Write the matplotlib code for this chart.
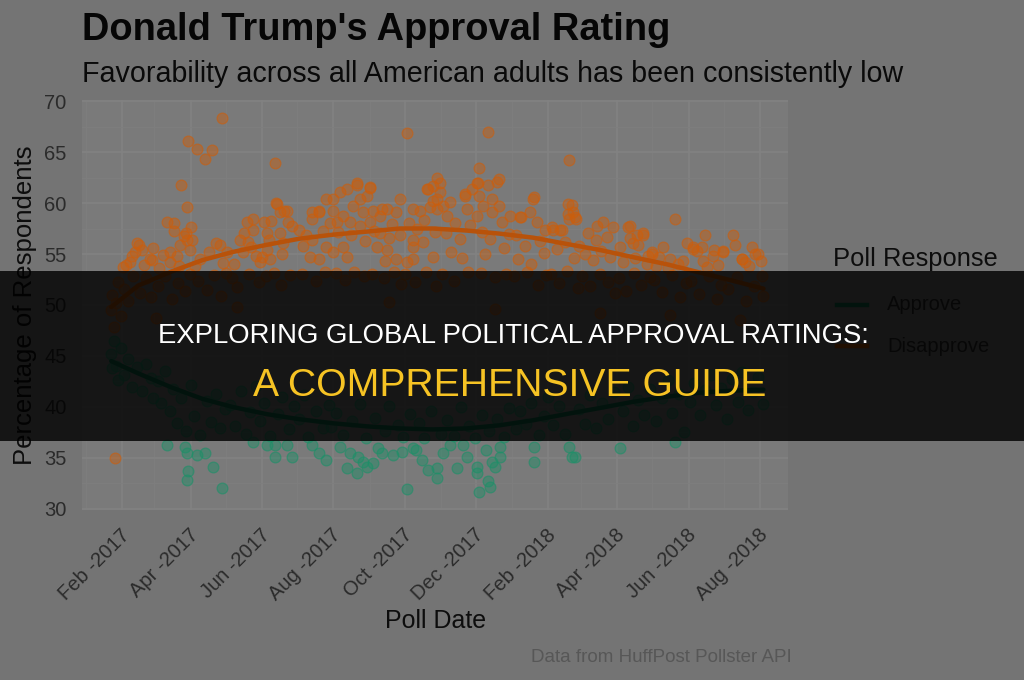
import numpy as np
import matplotlib
matplotlib.use("Agg")
import matplotlib.pyplot as plt
import matplotlib.dates as mdates
from matplotlib.lines import Line2D
from matplotlib.patches import Rectangle
from matplotlib.transforms import ScaledTranslation
from matplotlib.colors import to_rgba

plt.rcParams['font.family'] = ['Liberation Sans', 'DejaVu Sans']

# ---------------- data (days since 2017-01-01, percentage) ----------------
disapprove_day = [
    25, 32, 35, 38, 40, 42, 44, 46, 48, 50, 55, 57, 58,
    22, 23, 24, 26, 28, 30, 33, 36, 41, 47, 52, 56,
    63, 66, 70, 72, 72, 76, 76, 78, 80, 81, 82, 84, 86, 87, 87, 88, 89, 90, 91,
    62, 68, 74, 79, 85, 89,
    94, 95, 98, 102, 106, 108, 112, 115, 117, 118, 121,
    96, 104, 110, 116, 120,
    132, 135, 136, 138, 139, 142, 143, 143, 149, 127, 146,
    125, 130, 140, 148,
    151, 153, 155, 155, 158, 159, 162, 163, 164, 166, 166, 169, 170, 172, 173, 177, 157, 168,
    154, 161, 167, 175,
    183, 192, 194, 194, 194, 200, 200, 200, 206, 206, 186, 189, 203, 209,
    185, 197, 205,
    212, 212, 212, 215, 218, 220, 220, 224, 224, 226, 229, 232, 232, 235, 235, 237, 241, 239, 227, 216,
    214, 222, 230, 238,
    243, 243, 243, 246, 249, 252, 252, 254, 258, 258, 260, 266, 266, 269, 269, 247, 262, 256,
    245, 255, 264, 270,
    275, 275, 280, 280, 280, 280, 286, 289, 292, 293, 295, 297, 297, 297, 301, 301, 301, 277, 284, 290, 299,
    273, 282, 291, 300,
    303, 303, 306, 309, 312, 325, 326, 325, 331, 308, 316, 320, 329, 313, 322,
    305, 315, 327,
    335, 335, 336, 337, 337, 340, 344, 344, 348, 348, 352, 354, 354, 356, 363, 339, 346, 358, 362, 342,
    338, 350, 360,
    372, 373, 380, 383, 384, 386, 393, 368, 376, 389, 370, 381, 392,
    367, 378, 387, 394,
    399, 400, 406, 408, 413, 413, 414, 414, 416, 417, 419, 420, 403, 410, 418, 422,
    398, 405, 412, 421,
    430, 437, 438, 443, 446, 451, 427, 434, 441, 449,
    425, 432, 440, 447, 453,
    457, 464, 466, 466, 468, 472, 473, 477, 477, 460, 470, 480,
    456, 462, 469, 475, 483,
    481, 485, 485, 491, 494, 500, 504, 511, 515, 488, 498, 507,
    486, 493, 502, 509, 514,
    520, 520, 523, 527, 528, 530, 537, 538, 545, 545, 532, 541,
    518, 525, 533, 540, 544,
    554, 556, 562, 562, 564, 570, 573, 575, 568, 578,
    550, 557, 565, 572, 579, 580,
    60, 130, 260, 350, 440, 500, 560,
]
disapprove_pct = [
    35.0, 53.7, 53.9, 54.2, 54.8, 55.2, 56.1, 55.9, 55.4, 53.9, 54.5, 54.4, 55.6,
    49.5, 51.0, 47.8, 50.2, 52.3, 48.9, 51.6, 50.4, 52.8, 51.2, 52.6, 50.8,
    53.6, 54.9, 58.1, 55.2, 54.2, 58.0, 57.3, 54.8, 53.8, 55.9, 61.8, 56.8, 57.1, 59.6, 56.4, 66.1, 55.4, 57.6, 56.4,
    51.9, 52.8, 50.6, 52.2, 51.4, 53.0,
    53.8, 65.3, 54.5, 64.3, 55.2, 65.2, 56.1, 55.9, 68.3, 54.1, 55.2,
    52.4, 51.5, 52.9, 50.9, 53.1,
    56.4, 55.2, 57.1, 58.1, 56.2, 55.7, 57.4, 58.4, 54.2, 54.0, 54.8,
    52.6, 51.8, 53.0, 52.3,
    54.7, 58.1, 55.4, 57.1, 54.5, 58.2, 63.9, 60.0, 59.9, 59.1, 57.1, 56.1, 59.2, 59.2, 58.1, 57.7, 56.4, 55.0,
    52.8, 53.1, 52.0, 52.9,
    57.4, 54.7, 58.4, 56.4, 59.1, 59.1, 54.5, 59.2, 60.4, 55.7, 55.8, 56.9, 57.3, 58.0,
    53.0, 52.4, 53.2,
    59.2, 55.2, 60.4, 58.1, 61.1, 58.7, 55.7, 54.7, 61.4, 58.1, 59.7, 62.0, 61.8, 60.4, 57.7, 59.1, 60.7, 56.3, 56.9, 57.2,
    53.1, 52.5, 53.2, 52.8,
    61.5, 61.6, 58.1, 59.2, 55.7, 58.7, 57.1, 59.4, 59.4, 55.4, 56.6, 59.1, 54.5, 60.4, 56.9, 57.3, 57.9, 54.3,
    53.0, 52.6, 53.2, 52.1,
    54.2, 66.9, 59.4, 56.4, 54.5, 55.7, 59.2, 56.2, 61.4, 61.4, 59.6, 61.7, 54.7, 60.2, 60.4, 59.4, 62.5, 58.0, 57.5, 58.3, 57.2,
    53.0, 52.3, 53.2, 51.9,
    62.0, 61.1, 59.7, 58.7, 60.1, 60.9, 59.4, 60.7, 61.4, 57.1, 58.0, 56.5, 57.8, 55.2, 54.6,
    53.0, 52.4, 53.2,
    62.0, 58.7, 62.0, 63.4, 60.7, 59.7, 61.8, 67.0, 60.4, 59.1, 62.1, 59.7, 62.4, 58.1, 58.7, 57.2, 56.5, 55.6, 57.0, 55.0,
    53.1, 52.7, 53.0,
    58.6, 58.6, 59.1, 60.4, 60.6, 58.1, 57.4, 56.9, 55.8, 56.3, 54.5, 54.0, 55.1,
    52.8, 53.2, 52.0, 52.9,
    57.6, 57.4, 57.4, 57.4, 59.9, 58.9, 58.4, 64.2, 59.8, 59.1, 58.6, 58.4, 55.5, 56.2, 54.6, 55.8,
    53.0, 52.2, 53.3, 51.7,
    57.1, 56.4, 57.7, 58.1, 56.7, 57.6, 55.0, 54.4, 55.3, 54.7,
    52.8, 51.9, 53.0, 52.3, 51.2,
    55.7, 57.6, 57.7, 56.6, 56.1, 56.9, 55.9, 56.9, 57.1, 54.2, 54.6, 54.0,
    52.6, 51.4, 53.1, 52.0, 52.7,
    54.8, 55.0, 55.2, 54.7, 55.7, 54.5, 58.4, 54.3, 56.1, 53.8, 53.6, 54.0,
    52.5, 51.3, 52.9, 50.8, 52.2,
    55.7, 55.5, 55.3, 55.7, 54.3, 56.9, 54.8, 55.4, 55.2, 55.3, 53.7, 53.9,
    52.4, 51.1, 52.8, 50.6, 52.0,
    56.9, 55.9, 54.5, 54.5, 54.2, 55.7, 55.0, 55.0, 53.8, 54.3,
    51.6, 52.7, 50.4, 51.9, 52.8, 50.9,
    48.7, 49.8, 50.3, 49.6, 49.2, 49.0, 48.5,
]

approve_day = [
    22, 23, 24, 26, 28, 30, 33, 36, 40, 44, 48, 52, 56, 58,
    70, 85, 87, 95, 102, 109, 88, 87, 117,
    62, 65, 68, 72, 75, 78, 82, 86, 90, 93, 98, 104, 107, 112, 115, 119,
    143, 155, 162, 172, 162, 177,
    124, 128, 133, 137, 141, 146, 149, 153, 158, 165, 168, 174, 178,
    194, 200, 206,
    183, 187, 190, 197, 203, 208, 210,
    218, 226, 233, 237, 241, 232, 224, 246, 250, 254, 263, 271, 280, 275,
    214, 220, 228, 235, 240, 248, 256, 260, 267, 272, 278,
    288, 293, 301, 301, 318, 323, 335, 335, 337, 344, 346, 350, 355, 355, 306, 283, 312, 326, 343, 348,
    285, 290, 296, 304, 309, 315, 321, 328, 333, 339, 345, 352, 358, 362,
    384, 384,
    368, 372, 377, 381, 388, 392, 396,
    414, 416, 419, 457,
    400, 405, 410, 422, 427, 432, 437, 442, 447, 452,
    504,
    460, 464, 468, 473, 478, 483, 488, 493, 498, 502, 508, 512,
    517, 521, 526, 530, 535, 539, 544, 549, 553, 558, 562, 567, 571, 575, 580,
]
approve_pct = [
    45.2, 43.8, 46.5, 44.0, 42.6, 45.8, 43.1, 44.7, 42.0, 43.9, 41.6, 44.2, 42.8, 40.9,
    36.3, 36.1, 35.5, 35.3, 35.5, 34.1, 33.7, 32.8, 32.1,
    42.5, 40.4, 43.5, 39.6, 41.8, 38.4, 40.9, 37.6, 42.2, 39.1, 37.3, 40.6, 38.5, 41.3, 37.9, 39.8,
    36.6, 36.3, 36.3, 36.3, 35.1, 35.1,
    40.2, 38.1, 41.6, 37.4, 39.5, 42.1, 38.6, 40.4, 37.2, 39.3, 41.0, 37.8, 40.1,
    36.3, 35.5, 34.8,
    38.8, 41.2, 37.1, 39.6, 37.9, 40.2, 38.0,
    36.1, 35.5, 35.1, 34.6, 34.1, 33.5, 34.0, 34.5, 36.0, 35.5, 35.3, 35.6, 36.0, 32.0,
    39.4, 37.3, 38.6, 40.3, 37.0, 38.9, 37.6, 40.1, 38.2, 37.1, 39.3,
    34.8, 33.8, 34.0, 33.0, 34.0, 36.3, 34.1, 33.5, 31.7, 32.7, 32.2, 34.1, 35.1, 36.1, 35.5, 35.8, 36.3, 35.1, 35.8, 34.6,
    38.4, 37.0, 39.6, 37.4, 38.7, 37.2, 40.0, 38.1, 37.0, 39.2, 37.6, 38.8, 37.1, 39.9,
    36.1, 34.6,
    37.8, 39.6, 38.3, 40.4, 37.3, 39.1, 41.0,
    36.1, 35.1, 35.1, 36.0,
    38.2, 40.1, 37.4, 39.8, 38.3, 41.2, 37.9, 40.4, 38.8, 41.5,
    36.6,
    39.6, 42.0, 38.1, 40.7, 39.2, 41.8, 38.6, 40.9, 42.6, 39.4, 41.3, 37.5,
    40.5, 42.4, 39.2, 41.7, 43.1, 40.2, 41.9, 38.8, 42.7, 40.5, 43.4, 39.7, 41.5, 42.9, 40.3,
]

# loess trend
trend_day = [22, 45, 74, 100, 126, 155, 183, 212, 241, 269, 297,
             326, 354, 383, 411, 440, 468, 497, 525, 553, 580]
trend_disapprove = [49.8, 51.9, 53.3, 54.4, 55.2, 55.9, 56.5, 56.9, 57.2, 57.5, 57.5,
                    57.3, 57.0, 56.6, 56.0, 55.4, 54.7, 54.0, 53.2, 52.4, 51.6]
trend_approve = [44.5, 43.3, 41.9, 40.8, 40.0, 39.3, 38.8, 38.4, 38.1, 37.9, 37.8,
                 37.9, 38.2, 38.7, 39.3, 39.9, 40.5, 41.0, 41.4, 41.6, 41.7]

y_ticks = [30, 35, 40, 45, 50, 55, 60, 65, 70]
series_names = ['Approve', 'Disapprove']

# ---------------- styling ----------------
W, H = 1024, 680
BG = '#747474'
PANEL = '#7a7a7a'
GREEN = '#1c9068'
ORANGE = '#cc5e0c'
GREEN_LINE = '#0f6a4c'
ORANGE_LINE = '#b8520a'

BASE = np.datetime64('2017-01-01')


def to_dates(days):
    return BASE + np.array(days).astype('timedelta64[D]')


fig = plt.figure(figsize=(W / 100, H / 100), dpi=100, facecolor=BG)
ax = fig.add_axes([82 / W, 1 - 510 / H, (788 - 82) / W, 410 / H])
ax.set_facecolor(PANEL)

for days, vals, col in [(approve_day, approve_pct, GREEN),
                        (disapprove_day, disapprove_pct, ORANGE)]:
    ax.scatter(to_dates(days), vals, s=60,
               facecolor=to_rgba(col, 0.45), edgecolor=to_rgba(col, 0.6),
               linewidth=0.9, zorder=3)

ax.plot(to_dates(trend_day), trend_approve, color=GREEN_LINE, lw=3.2,
        solid_capstyle='round', zorder=4)
ax.plot(to_dates(trend_day), trend_disapprove, color=ORANGE_LINE, lw=3.2,
        solid_capstyle='round', zorder=4)

ax.set_xlim(BASE + np.timedelta64(-3, 'D'), BASE + np.timedelta64(601, 'D'))
ax.set_ylim(29.9, 70.1)
ax.set_yticks(y_ticks)
ax.yaxis.set_minor_locator(matplotlib.ticker.MultipleLocator(2.5))
ax.xaxis.set_major_locator(mdates.MonthLocator(bymonth=[2, 4, 6, 8, 10, 12]))
ax.xaxis.set_minor_locator(mdates.MonthLocator())
ax.xaxis.set_major_formatter(mdates.DateFormatter('%b -%Y'))

ax.grid(which='major', color='#828282', lw=1.1, zorder=0)
ax.grid(which='minor', color='#7e7e7e', lw=0.6, zorder=0)
ax.set_axisbelow(True)
for sp in ax.spines.values():
    sp.set_visible(False)
ax.tick_params(which='both', length=0)
ax.tick_params(axis='y', labelsize=14.5, labelcolor='#2b2b2b', pad=11)
ax.tick_params(axis='x', labelsize=14.5, labelcolor='#2b2b2b', pad=11)
offset = ScaledTranslation(-2 / 100, 0, fig.dpi_scale_trans)
for lab in ax.get_xticklabels():
    lab.set_rotation(45)
    lab.set_ha('right')
    lab.set_va('top')
    lab.set_rotation_mode('anchor')
    lab.set_transform(lab.get_transform() + offset)

# titles
fig.text(82 / W, 1 - 40 / H, "Donald Trump's Approval Rating", fontsize=27.4,
         fontweight='bold', color='#060606', va='baseline', ha='left')
fig.text(82 / W, 1 - 82 / H,
         'Favorability across all American adults has been consistently low',
         fontsize=20.6, color='#0a0a0a', va='baseline', ha='left')
fig.text(25 / W, 1 - 305 / H, 'Percentage of Respondents', rotation=90,
         fontsize=18.5, color='#0d0d0d', va='center', ha='center')
fig.text(436 / W, 1 - 621 / H, 'Poll Date', fontsize=18,
         color='#0d0d0d', va='center', ha='center')
fig.text(792 / W, 1 - 657 / H, 'Data from HuffPost Pollster API', fontsize=13.5,
         color='#575757', va='center', ha='right')

# legend
fig.text(833 / W, 1 - 259 / H, 'Poll Response', fontsize=18.4, color='#0d0d0d',
         va='center', ha='left')
for name, col, yy in [(series_names[0], GREEN_LINE, 305),
                      (series_names[1], ORANGE_LINE, 346)]:
    fig.add_artist(Line2D([837 / W, 867 / W], [1 - yy / H] * 2, color=col, lw=3.2,
                          transform=fig.transFigure))
    fig.text(887 / W, 1 - yy / H, name, fontsize=14.5, color='#2b2b2b',
             va='center', ha='left')

# banner overlay
fig.add_artist(Rectangle((0, 1 - 441 / H), 1, 170 / H, transform=fig.transFigure,
                         facecolor='black', alpha=0.82, edgecolor='none', zorder=10))
fig.text(513 / W, 1 - 343 / H, 'EXPLORING GLOBAL POLITICAL APPROVAL RATINGS:',
         fontsize=19.8, color='white', va='baseline', ha='center', zorder=11)
fig.text(510 / W, 1 - 396 / H, 'A COMPREHENSIVE GUIDE', fontsize=28.2,
         color='#f6c324', va='baseline', ha='center', zorder=11)

fig.savefig('out.png', dpi=100, facecolor=BG)
